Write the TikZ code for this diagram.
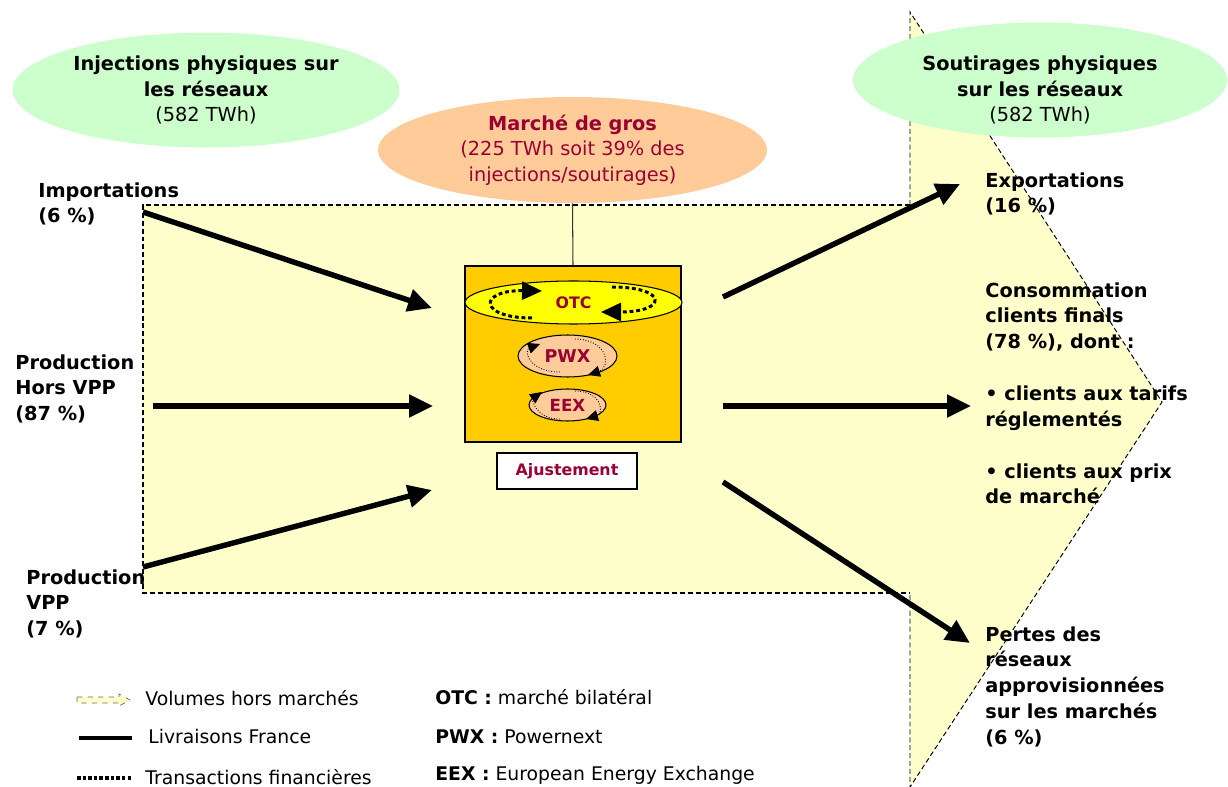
\documentclass[tikz,border=0pt]{standalone}
\usepackage{fontspec}
\setmainfont{DejaVu Sans}
\usetikzlibrary{shapes,arrows.meta}

\definecolor{paleyellow}{HTML}{FFFFCC}
\definecolor{palegreen}{HTML}{CCFFCC}
\definecolor{peach}{HTML}{FFCC99}
\definecolor{gold}{HTML}{FFCC00}
\definecolor{otcyellow}{HTML}{FFFF00}
\definecolor{wine}{HTML}{990033}

\begin{document}
\begin{tikzpicture}[x=0.02cm, y=-0.02cm,
      every node/.append style={inner sep=0pt},
      lbl/.style={anchor=north west, align=left, font=\bfseries\fontsize{11}{14.7}\selectfont},
      legtxt/.style={anchor=north west, font=\fontsize{10.7}{13}\selectfont},
      bubble/.style={ellipse, align=center, font=\fontsize{11}{14.5}\selectfont},
      flow/.style={line width=3.1pt, -{Triangle[length=0.48cm,width=0.44cm]}},
      otcloop/.style={line width=1.7pt, dash pattern=on 2.2pt off 1.6pt, -{Triangle[length=0.4cm,width=0.36cm]}},
      minring/.style={densely dotted, line width=0.5pt, -{Triangle[length=0.24cm,width=0.22cm]}}]
    \tikzstyle{market} = [ellipse, draw, line width=0.6pt, text=wine, font=\bfseries\fontsize{10}{12}\selectfont]
    \useasboundingbox (0,0) rectangle (1228,787);
    % zone des marches
    \fill[paleyellow] (143,205) rectangle (910,593);
    \draw[dash pattern=on 2.8pt off 1.7pt, line width=0.6pt] (910,205) -- (143,205) -- (143,593) -- (910,593);
    \fill[paleyellow] (910,12) -- (1162,402) -- (910,787) -- cycle;
    \draw[dash pattern=on 2.8pt off 1.7pt, line width=0.55pt] (910,205) -- (910,12) -- (1162,402) -- (910,787) -- (910,593);

    \node[bubble, fill=palegreen, minimum width=7.74cm, minimum height=2.3cm] (inj) at (206,90)
      {\textbf{Injections physiques sur}\\\textbf{les réseaux}\\(582 TWh)};
    \node[ellipse, fill=palegreen, minimum width=7.48cm, minimum height=2.3cm] (sout) at (1040,80) {};
    \node[bubble] (souttxt) at (1040,90) {\textbf{Soutirages physiques}\\\textbf{sur les réseaux}\\(582 TWh)};
    \node[bubble, fill=peach, text=wine, minimum width=7.78cm, minimum height=2.12cm] (gros) at (572.5,150)
      {\textbf{Marché de gros}\\(225 TWh soit 39\% des\\injections/soutirages)};

    \node[draw, fill=gold, line width=0.6pt, minimum width=4.32cm, minimum height=3.52cm] (bourse) at (573,354) {};
    \draw[line width=0.6pt, black!80] (gros.south) -- (bourse.north);
    \node[market, fill=otcyellow, minimum width=4.34cm, minimum height=0.86cm, font=\bfseries\fontsize{9}{11}\selectfont] (otc) at (573.5,302.5) {OTC};
    \node[market, fill=peach, minimum width=1.98cm, minimum height=0.84cm] (pwx) at (567.5,356) {PWX};
    \node[market, fill=peach, minimum width=1.54cm, minimum height=0.64cm, font=\bfseries\fontsize{9.5}{11}\selectfont] (eex) at (567.5,405) {EEX};
    \node[draw, fill=white, line width=0.6pt, minimum width=2.8cm, minimum height=0.72cm, text=wine, font=\bfseries\fontsize{9}{11}\selectfont] (ajust) at (567,471) {Ajustement};

    \draw[otcloop] (532,318) .. controls (478,318) and (478,290) .. (542,291);
    \draw[otcloop] (612,287) .. controls (668,287) and (668,312) .. (601,312);
    \draw[minring] (560,372) .. controls (528,372) and (524,350) .. (540,344);
    \draw[minring] (575,339) .. controls (610,340) and (610,368) .. (588,375);
    \draw[minring] (560,419) .. controls (535,419) and (532,399) .. (542,392);
    \draw[minring] (575,391) .. controls (604,392) and (603,414) .. (586,419);

    \coordinate (imp-a) at (143,212);  \coordinate (imp-b) at (432,308);
    \coordinate (hvpp-a) at (153,406); \coordinate (hvpp-b) at (433,406);
    \coordinate (vpp-a) at (143,567);  \coordinate (vpp-b) at (432,490);
    \coordinate (exp-a) at (723,297);  \coordinate (exp-b) at (960,184);
    \coordinate (conso-a) at (723,406); \coordinate (conso-b) at (971,406);
    \coordinate (pertes-a) at (723,482); \coordinate (pertes-b) at (970,643);
    \draw[flow] (imp-a) -- (imp-b);
    \draw[flow] (hvpp-a) -- (hvpp-b);
    \draw[flow] (vpp-a) -- (vpp-b);
    \draw[flow] (exp-a) -- (exp-b);
    \draw[flow] (conso-a) -- (conso-b);
    \draw[flow] (pertes-a) -- (pertes-b);

    \node[lbl] (imp) at (38,182) {Importations\\(6 \%)};
    \node[lbl] (hvpp) at (15,354) {Production\\Hors VPP\\(87 \%)};
    \node[lbl] (vpp) at (26,569) {Production\\VPP\\(7 \%)};
    \node[lbl] (exp) at (985,172) {Exportations\\(16 \%)};
    \node[lbl] (conso) at (985,282) {Consommation\\clients finals\\(78 \%), dont :\\[0.52cm]• clients aux tarifs\\réglementés\\[0.52cm]• clients aux prix\\de marché};
    \node[lbl] (pertes) at (985,626) {Pertes des\\réseaux\\approvisionnées\\sur les marchés\\(6 \%)};

    % legende
    \draw[fill=paleyellow, draw=black!60, dashed, line width=0.4pt] (77,697) -- (119,697) -- (119,694) -- (130,700) -- (119,706) -- (119,703) -- (77,703) -- cycle;
    \node[legtxt] (lvol) at (145,690) {Volumes hors marchés};
    \draw[line width=2.4pt] (79,738) -- (132,738);
    \node[legtxt] (lliv) at (148,729) {Livraisons France};
    \draw[line width=2.4pt, dash pattern=on 2pt off 1.2pt] (77,778) -- (131,778);
    \node[legtxt] (ltrans) at (145,769) {Transactions financières};
    \node[legtxt] (lotc) at (435,689) {\textbf{OTC :} marché bilatéral};
    \node[legtxt] (lpwx) at (435,729) {\textbf{PWX :} Powernext};
    \node[legtxt] (leex) at (435,766) {\textbf{EEX :} European Energy Exchange};
\end{tikzpicture}
\end{document}
